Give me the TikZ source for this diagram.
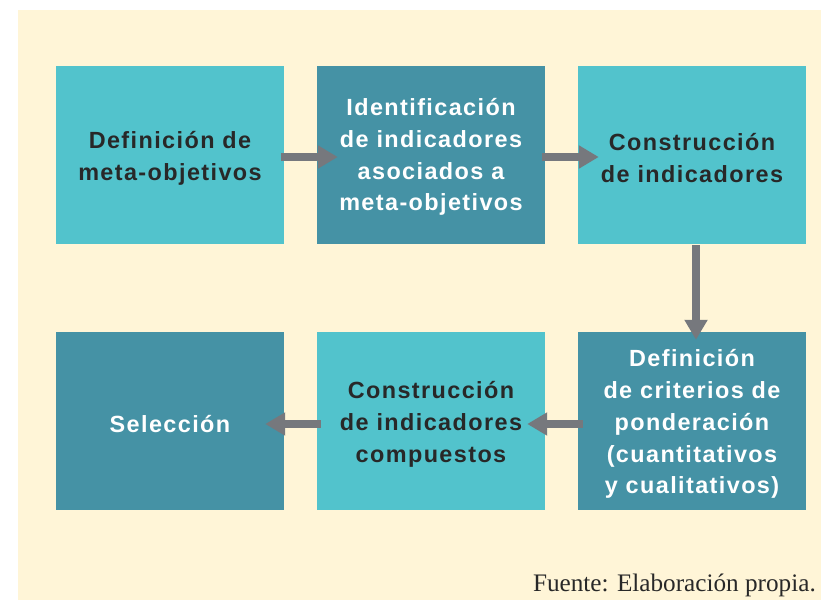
\documentclass[tikz,border=0pt]{standalone}
\usepackage{fontspec}
\setmainfont{Liberation Sans}
\newfontfamily\boxfont[LetterSpace=6]{Liberation Sans}
\newfontfamily\footfont{Liberation Serif}
\usetikzlibrary{arrows.meta}
\definecolor{cream}{RGB}{255,245,215}
\definecolor{lteal}{RGB}{82,195,204}
\definecolor{dteal}{RGB}{69,146,165}
\definecolor{agray}{RGB}{118,120,125}
\definecolor{txt}{RGB}{40,40,40}
\begin{document}
\begin{tikzpicture}[x=1bp,y=-1bp,
  box/.style={minimum width=228bp,minimum height=178bp,inner sep=0pt},
  lightbox/.style={box,fill=lteal},
  darkbox/.style={box,fill=dteal},
  lbl/.style={inner sep=0pt,align=center,font=\boxfont\bfseries\fontsize{23.5}{32}\selectfont},
  darktext/.style={lbl,text=txt},
  lighttext/.style={lbl,text=white},
  arr/.style={draw=agray,line width=8bp,-{Triangle[width=22bp,length=20bp]}}]
\useasboundingbox (0,0) rectangle (821,600);
\fill[cream] (17.5,10.5) rectangle (821,600);
\node[lightbox] (b1) at (170,155) {};
\node[darkbox] (b2) at (431,155) {};
\node[lightbox] (b3) at (692,155) {};
\node[darkbox] (b4) at (170,421) {};
\node[lightbox] (b5) at (431,421) {};
\node[darkbox] (b6) at (692,421) {};
\node[darktext] (t1) at ([yshift=-3bp]b1.center) {Definición de\\meta-objetivos};
\node[lighttext] (t2) at ([yshift=-2bp]b2.center) {Identificación\\de indicadores\\asociados a\\meta-objetivos};
\node[darktext] (t3) at ([yshift=-3bp]b3.center) {Construcción\\de indicadores};
\node[lighttext] (t4) at ([yshift=-3bp]b4.center) {Selección};
\node[darktext] (t5) at ([yshift=-3bp]b5.center) {Construcción\\de indicadores\\compuestos};
\node[lighttext] (t6) at ([yshift=-3bp]b6.center) {Definición\\de criterios de\\ponderación\\(cuantitativos\\y cualitativos)};
\draw[arr] ([shift={(-3,2)}]b1.east) -- ([shift={(21,2)}]b2.west);
\draw[arr] ([shift={(-3,2)}]b2.east) -- ([shift={(21,2)}]b3.west);
\draw[arr] ([shift={(4,1)}]b3.south) -- ([shift={(4,8)}]b6.north);
\draw[arr] ([shift={(5,3)}]b6.west) -- ([shift={(-18,3)}]b5.east);
\draw[arr] ([shift={(4,3)}]b5.west) -- ([shift={(-19,3)}]b4.east);
\node[anchor=base east,font=\footfont\fontsize{25.3}{30}\selectfont,text=txt,inner sep=0pt] (src) at (816,591) {Fuente: Elaboración propia.};
\end{tikzpicture}
\end{document}
